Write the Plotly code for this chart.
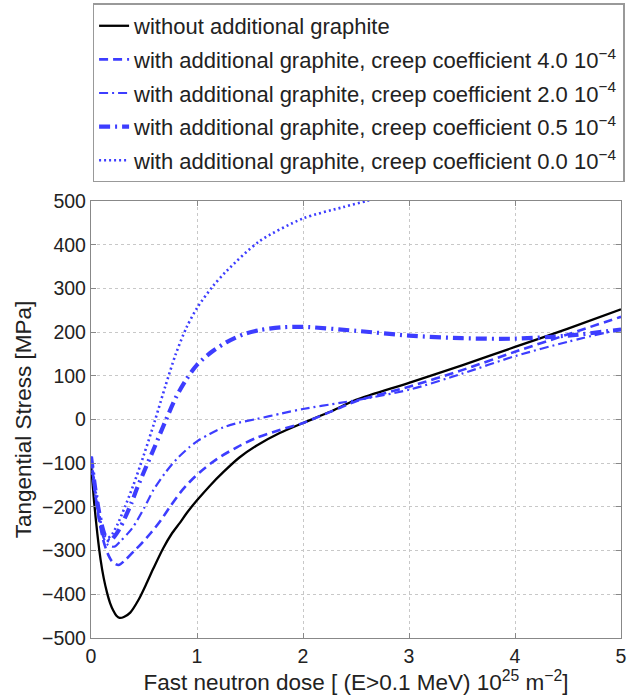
import plotly.graph_objects as go

# ---- data ----
x_black = [0, 0.03, 0.06, 0.09, 0.12, 0.15, 0.18, 0.21, 0.24, 0.27, 0.31, 0.37, 0.45, 0.53, 0.59, 0.68,
           0.76, 0.84, 0.9, 1.0, 1.12, 1.25, 1.4, 1.56, 1.78, 2.0, 2.25, 2.5, 3.0, 3.5, 4.0, 4.5, 5.0]
y_black = [-100, -190, -262, -320, -363, -395, -420, -437, -449, -454, -452, -442, -412, -372, -340, -295,
           -262, -236, -215, -185, -152, -120, -87, -60, -31, -8, 17, 45, 84, 124, 166, 208, 252]

x_c40 = [0, 0.04, 0.08, 0.12, 0.16, 0.2, 0.26, 0.33, 0.41, 0.46, 0.57, 0.66, 0.75, 0.84, 0.93, 1.03,
         1.19, 1.38, 1.56, 1.78, 2.0, 2.35, 2.5, 3.0, 3.5, 4.0, 4.5, 5.0]
y_c40 = [-85, -170, -235, -280, -308, -325, -333, -320, -300, -288, -258, -230, -198, -168, -143, -120,
         -90, -63, -42, -24, -8, 27, 42, 75, 113, 155, 195, 235]

x_c20 = [0, 0.04, 0.08, 0.12, 0.16, 0.2, 0.23, 0.28, 0.35, 0.4, 0.5, 0.59, 0.7, 0.81, 0.93, 1.0,
         1.12, 1.25, 1.4, 1.56, 1.8, 2.0, 2.35, 2.5, 3.0, 3.5, 4.0, 4.5, 5.0]
y_c20 = [-85, -170, -235, -272, -287, -291, -290, -278, -260, -245, -203, -161, -122, -90, -63, -50,
         -33, -18, -7, 1, 14, 24, 38, 44, 68, 105, 145, 178, 207]

x_c05 = [0, 0.05, 0.1, 0.14, 0.18, 0.22, 0.27, 0.32, 0.38, 0.44, 0.52, 0.6, 0.7, 0.8, 0.9, 1.0,
         1.14, 1.28, 1.44, 1.6, 1.8, 2.0, 2.5, 3.0, 3.5, 4.0, 4.5, 5.0]
y_c05 = [-85, -175, -240, -270, -278, -268, -250, -225, -192, -154, -108, -63, -5, 50, 92, 125,
         155, 177, 195, 205, 211, 212, 203, 192, 186, 185, 192, 206]

x_c00 = [0, 0.05, 0.1, 0.13, 0.16, 0.2, 0.25, 0.32, 0.4, 0.5, 0.6, 0.7, 0.8, 0.9, 1.0,
         1.15, 1.28, 1.59, 2.0, 2.38, 2.6, 2.7]
y_c00 = [-85, -175, -245, -266, -271, -262, -240, -200, -150, -80, -5, 75, 150, 210, 255,
         305, 340, 408, 460, 486, 500, 506]

names = [
    "without additional graphite",
    "with additional graphite, creep coefficient 4.0 10<sup>\u22124</sup>",
    "with additional graphite, creep coefficient 2.0 10<sup>\u22124</sup>",
    "with additional graphite, creep coefficient 0.5 10<sup>\u22124</sup>",
    "with additional graphite, creep coefficient 0.0 10<sup>\u22124</sup>",
]

x_ticks = [0, 1, 2, 3, 4, 5]
y_ticks = [-500, -400, -300, -200, -100, 0, 100, 200, 300, 400, 500]

BLUE = "#3d3dff"
series = [
    (x_black, y_black, dict(color="black", width=2.3)),
    (x_c40, y_c40, dict(color=BLUE, width=2.6, dash="9px,5px")),
    (x_c20, y_c20, dict(color=BLUE, width=2.2, dash="9px,4px,2px,4px")),
    (x_c05, y_c05, dict(color=BLUE, width=4.2, dash="11px,5px,2px,5px")),
    (x_c00, y_c00, dict(color=BLUE, width=2.6, dash="2px,3px")),
]

fig = go.Figure()
for i, (xs, ys, ln) in enumerate(series):
    fig.add_trace(go.Scatter(
        x=xs, y=ys, mode="lines", name=names[i], legendgroup=f"g{i}",
        line=dict(shape="spline", smoothing=0.8, **ln),
    ))

axis_common = dict(
    showline=True, linecolor="#888", linewidth=1.3, mirror="ticks",
    ticks="inside", ticklen=5, tickcolor="#888",
    showgrid=True, gridcolor="#c8c8c8", griddash="dot", gridwidth=1,
    zeroline=False, tickfont=dict(size=19.5, color="#222"),
)

fig.update_layout(
    width=637, height=698,
    margin=dict(l=91, r=16, t=201, b=60, autoexpand=False),
    paper_bgcolor="white", plot_bgcolor="white",
    font=dict(family="Liberation Sans, Arial, sans-serif", color="#222"),
    xaxis=dict(range=[0, 5], tickvals=x_ticks,
               title=dict(text="Fast neutron dose [ (E>0.1 MeV) 10<sup>25</sup> m<sup>\u22122</sup>]",
                          font=dict(size=22.5), standoff=2),
               **axis_common),
    yaxis=dict(range=[-500, 500], tickvals=y_ticks,
               title=dict(text="Tangential Stress [MPa]", font=dict(size=22.5), standoff=4),
               **axis_common),
    legend=dict(x=0.003, y=1.452, xanchor="left", yanchor="top",
                bordercolor="#999", borderwidth=1.5, bgcolor="white",
                font=dict(size=22, color="#222"), traceorder="grouped",
                tracegroupgap=2),
    showlegend=True,
)

fig.write_html("out.html")
